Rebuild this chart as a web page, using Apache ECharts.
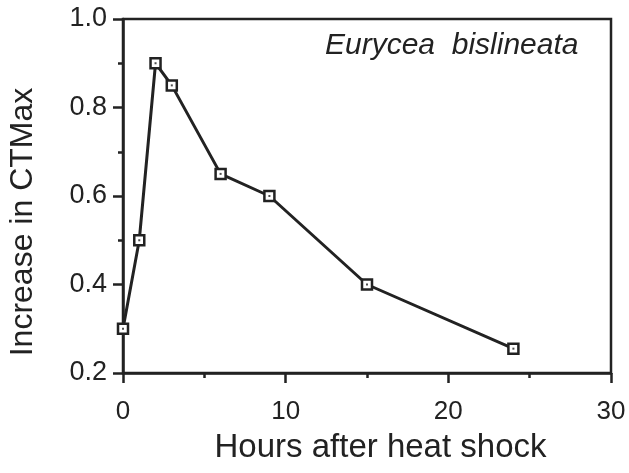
<!DOCTYPE html>
<html>
<head>
<meta charset="utf-8">
<script src="https://cdn.jsdelivr.net/npm/echarts@6/dist/echarts.min.js"></script>
<style>
html,body{margin:0;padding:0;background:#fff;}
#chart{width:629px;height:473px;}
</style>
</head>
<body>
<div id="chart"></div>
<script>
var hours = [0, 1, 2, 3, 6, 9, 15, 24];
var ctmaxIncrease = [0.30, 0.50, 0.90, 0.85, 0.65, 0.60, 0.40, 0.255];
var xTicks = [0, 10, 20, 30];
var yTicks = [0.2, 0.4, 0.6, 0.8, 1.0];
var species = 'Eurycea  bislineata';
var xTitle = 'Hours after heat shock';
var yTitle = 'Increase in CTMax';

var pts = hours.map(function (h, i) { return [h, ctmaxIncrease[i]]; });
var ink = '#222';
var font = '"Liberation Sans", Arial, sans-serif';

var chart = echarts.init(document.getElementById('chart'), null, {renderer: 'canvas'});
chart.setOption({
  animation: false,
  backgroundColor: '#fff',
  title: {
    text: species,
    left: 320, top: 26,
    textStyle: {fontFamily: font, fontStyle: 'italic', fontWeight: 'normal', fontSize: 30, color: ink}
  },
  grid: {
    left: 123, right: 18, top: 19, bottom: 100,
    outerBoundsMode: 'none', containLabel: false,
    show: true, borderColor: ink, borderWidth: 2.5, backgroundColor: 'transparent'
  },
  xAxis: {
    type: 'value', min: 0, max: 30, interval: 10,
    name: xTitle, nameLocation: 'middle', nameGap: 58,
    nameTextStyle: {fontFamily: font, fontSize: 33, color: ink, padding: [0, 0, 0, 27]},
    axisLine: {show: true, lineStyle: {color: ink, width: 2.5}},
    axisTick: {show: true, inside: false, length: 10, lineStyle: {color: ink, width: 2.5}},
    minorTick: {show: true, splitNumber: 2, length: 5, lineStyle: {color: ink, width: 2.5}},
    splitLine: {show: false},
    axisLabel: {
      margin: 26, fontFamily: font, fontSize: 26, color: ink,
      formatter: function (v) { return xTicks.indexOf(v) >= 0 ? String(v) : ''; }
    }
  },
  yAxis: {
    type: 'value', min: 0.2, max: 1.0, interval: 0.2,
    name: yTitle, nameLocation: 'middle', nameGap: 84, nameRotate: 90,
    nameTextStyle: {fontFamily: font, fontSize: 32, color: ink, padding: [0, 52, 0, 0]},
    axisLine: {show: true, lineStyle: {color: ink, width: 2.5}},
    axisTick: {show: true, inside: false, length: 10, lineStyle: {color: ink, width: 2.5}},
    minorTick: {show: true, splitNumber: 2, length: 5, lineStyle: {color: ink, width: 2.5}},
    splitLine: {show: false},
    axisLabel: {
      margin: 16, fontFamily: font, fontSize: 27, color: ink,
      formatter: function (v) {
        var r = Math.round(v * 10) / 10;
        return yTicks.some(function (t) { return Math.abs(t - r) < 1e-9; }) ? r.toFixed(1) : '';
      }
    }
  },
  series: [
    {
      type: 'line',
      data: pts,
      symbol: 'rect',
      symbolSize: 10,
      lineStyle: {color: ink, width: 3},
      itemStyle: {color: '#fff', borderColor: ink, borderWidth: 2.5},
      z: 2
    },
    {
      type: 'scatter',
      data: pts,
      symbol: 'rect',
      symbolSize: 2,
      itemStyle: {color: ink},
      z: 3
    }
  ]
});
</script>
</body>
</html>
